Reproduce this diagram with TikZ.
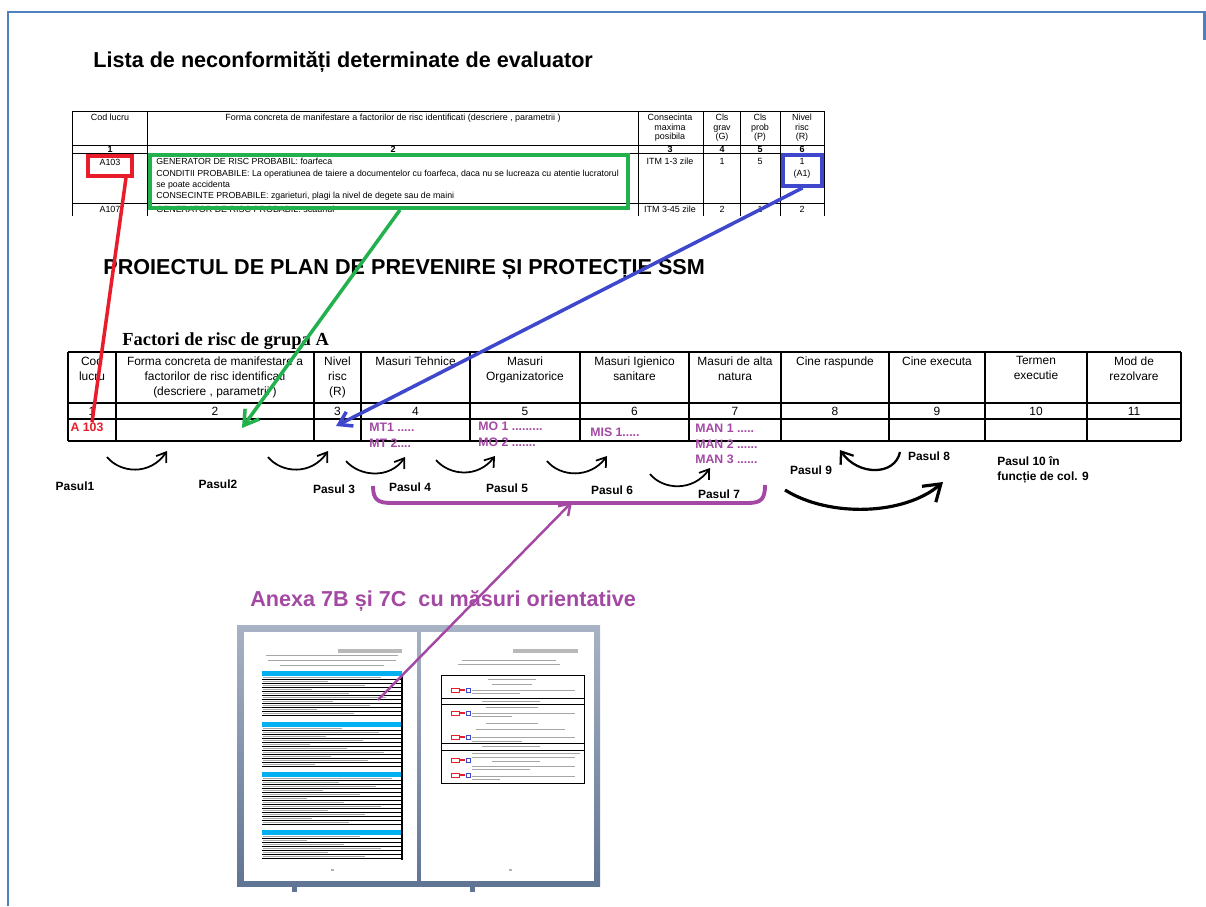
\documentclass[tikz,border=0pt]{standalone}
\usepackage{fontspec}
\setmainfont{Liberation Sans}
\newfontfamily\timesfont{Liberation Serif}
\usetikzlibrary{arrows.meta}
\definecolor{cadru}{RGB}{79,129,189}
\definecolor{rosu}{RGB}{232,28,42}
\definecolor{verde}{RGB}{34,177,76}
\definecolor{albastru}{RGB}{63,72,204}
\definecolor{mov}{RGB}{163,73,164}
\definecolor{ramaimg}{RGB}{96,116,148}
\definecolor{cian}{RGB}{0,176,240}

\begin{document}
\begin{tikzpicture}[x=0.02cm,y=-0.02cm,
  titlu/.style={font=\bfseries\fontsize{12.3}{14}\selectfont, inner sep=0pt, anchor=west},
  mic/.style={font=\fontsize{5.1}{5.4}\selectfont, inner sep=0pt, align=center, anchor=north},
  micb/.style={font=\bfseries\fontsize{5.1}{5.4}\selectfont, inner sep=0pt},
  antet/.style={font=\fontsize{6.8}{8.7}\selectfont, inner sep=0pt, align=center, anchor=north},
  masura/.style={font=\bfseries\fontsize{7}{9}\selectfont, text=mov, inner sep=0pt, align=left, anchor=north west},
  pasul/.style={font=\bfseries\fontsize{6.8}{8.5}\selectfont, inner sep=0pt},
  pas/.style={line width=1pt, -{Straight Barb[length=5pt,width=7pt]}},
  marcaj/.style={draw=#1, line width=2.2pt, inner sep=0pt},
  textgri/.style={gray!70, line width=0.5pt}]
\useasboundingbox (0,0) rectangle (1206,906);

% cadrul slide-ului
\draw [cadru, line width=1.7pt] (8,906) -- (8,12) -- (1204,12) -- (1204,40);

\node [titlu] (lista) at (93,62) {Lista de neconformități determinate de evaluator};

% tabelul evaluatorului (decupat)
\begin{scope}
\clip (60,105) rectangle (835,215);
\draw [line width=0.5pt] (72,111) -- (824,111);
\draw [line width=0.5pt] (72,145) -- (824,145);
\draw [line width=0.5pt] (72,153) -- (824,153);
\draw [line width=0.5pt] (72,203) -- (824,203);
\foreach \x in {72,147,638,703,740,780,824}
  \draw [line width=0.5pt] (\x,111) -- (\x,240);

\node [mic] (ev1) at (110,114) {Cod lucru};
\node [mic] (ev2) at (393,114) {Forma concreta de manifestare a factorilor de risc identificati (descriere , parametrii )};
\node [mic] (ev3) at (670,114) {Consecinta\\maxima\\posibila};
\node [mic] (ev4) at (722,114) {Cls\\grav\\(G)};
\node [mic] (ev5) at (760,114) {Cls\\prob\\(P)};
\node [mic] (ev6) at (802,114) {Nivel\\risc\\(R)};

\node [micb] at (110,149) {1};
\node [micb] at (393,149) {2};
\node [micb] at (670,149) {3};
\node [micb] at (722,149) {4};
\node [micb] at (760,149) {5};
\node [micb] at (802,149) {6};

\node [mic] (codev) at (110,159) {A103};
\node [mic, anchor=north west, align=left, font=\fontsize{5}{6.5}\selectfont] (descev) at (156,158)
  {GENERATOR DE RISC PROBABIL: foarfeca\\
   CONDITII PROBABILE: La operatiunea de taiere a documentelor cu foarfeca, daca nu se lucreaza cu atentie lucratorul\\
   se poate accidenta\\
   CONSECINTE PROBABILE: zgarieturi, plagi la nivel de degete sau de maini};
\node [mic] at (670,158) {ITM 1-3 zile};
\node [mic] at (722,158) {1};
\node [mic] at (760,158) {5};
\node [mic, font=\fontsize{5.1}{6.8}\selectfont] (riscev) at (802,158) {1\\(A1)};

\node [mic] at (110,206) {A107};
\node [mic, anchor=north west] at (156,206) {GENERATOR DE RISC PROBABIL: scaunul};
\node [mic] at (670,206) {ITM 3-45 zile};
\node [mic] at (722,206) {2};
\node [mic] at (760,206) {1};
\node [mic] at (802,206) {2};
\end{scope}

% marcajele colorate
\node [marcaj=rosu, minimum width=0.88cm, minimum height=0.4cm] (bA103) at (110,166) {};
\node [marcaj=verde, minimum width=9.56cm, minimum height=1.06cm] (bGen) at (389,181.5) {};
\node [marcaj=albastru, minimum width=0.78cm, minimum height=0.62cm] (bRisc) at (802.5,170.5) {};

\node [titlu] (proiect) at (103,269) {PROIECTUL DE PLAN DE PREVENIRE ȘI PROTECȚIE SSM};

\node [font=\timesfont\bfseries\fontsize{10.5}{12}\selectfont, anchor=west, inner sep=0pt] (factori) at (122,341) {Factori de risc de grupa A};

% tabelul planului
\foreach \y in {352,403,419,441}
  \draw [line width=0.6pt] (68,\y) -- (1181,\y);
\foreach \x in {68,116,314,361,470,580,689,781,889,985,1087,1181}
  \draw [line width=0.6pt] (\x,352) -- (\x,441);

\node [antet] (h1) at (92,356) {Cod\\lucru};
\node [antet] (h2) at (215,356) {Forma concreta de manifestare a\\factorilor de risc identificati\\(descriere , parametrii )};
\node [antet] (h3) at (337.5,356) {Nivel\\risc\\(R)};
\node [antet] (h4) at (415.5,356) {Masuri Tehnice};
\node [antet] (h5) at (525,356) {Masuri\\Organizatorice};
\node [antet] (h6) at (634.5,356) {Masuri Igienico\\sanitare};
\node [antet] (h7) at (735,356) {Masuri de alta\\natura};
\node [antet] (h8) at (835,356) {Cine raspunde};
\node [antet] (h9) at (937,356) {Cine executa};
\node [antet] (h10) at (1036,356) {Termen\\executie};
\node [antet] (h11) at (1134,356) {Mod de\\rezolvare};

\foreach \x [count=\i] in {92,215,337.5,415.5,525,634.5,735,835,937,1036,1134}
  \node [antet, anchor=center] (n\i) at (\x,411) {\i};

\node [font=\bfseries\fontsize{7}{9}\selectfont, text=rosu, inner sep=0pt] (codA) at (87,427) {A 103};
\node [masura] (mt) at (369,423) {MT1 .....\\MT 2....};
\node [masura] (mo) at (478,422) {MO 1 .........\\MO 2 .......};
\node [masura] (mis) at (590,428) {MIS 1.....};
\node [masura, font=\bfseries\fontsize{7}{8.8}\selectfont] (man) at (695,424) {MAN 1 .....\\MAN 2 ......\\MAN 3 ......};

\coordinate (tinta2) at (242,428);
\coordinate (tinta3) at (336,426);

% legaturile colorate
\draw [rosu, line width=2pt] ([xshift=0.32cm]bA103.south) -- ([xshift=0.1cm]codA.north);
\draw [verde, line width=2pt, -{Straight Barb[length=8pt,width=10pt]}] ([xshift=0.22cm]bGen.south) -- (tinta2);
\draw [albastru, line width=2pt, -{Straight Barb[length=7pt,width=9pt]}] (bRisc.south) -- (tinta3);

% pasii
\draw [pas] (107,457) .. controls (120,473) and (150,476) .. (167,451);
\draw [pas] (268,457) .. controls (281,473) and (311,476) .. (328,451);
\draw [pas] (346,461) .. controls (360,477) and (390,479) .. (405,457);
\draw [pas] (436,460) .. controls (450,476) and (478,478) .. (495,456);
\draw [pas] (547,461) .. controls (560,477) and (590,479) .. (607,456);
\draw [pas] (650,474) .. controls (663,490) and (693,492) .. (710,468);
\draw [line width=1.3pt, -{Straight Barb[length=6pt,width=9pt]}] (900,452) .. controls (895,476) and (858,476) .. (840,450);
\draw [line width=1.8pt, -{Straight Barb[length=9pt,width=12pt]}] (785,490) .. controls (830,518) and (905,515) .. (943,482);

\node [pasul] (p1) at (75,486) {Pasul1};
\node [pasul] (p2) at (218,484) {Pasul2};
\node [pasul] (p3) at (334,489) {Pasul 3};
\node [pasul] (p4) at (410,487) {Pasul 4};
\node [pasul] (p5) at (507,488) {Pasul 5};
\node [pasul] (p6) at (612,490) {Pasul 6};
\node [pasul] (p7) at (719,494) {Pasul 7};
\node [pasul] (p9) at (811,470) {Pasul 9};
\node [pasul] (p8) at (929,456) {Pasul 8};
\node [pasul, anchor=north west, align=left] (p10) at (997,456) {Pasul 10 în\\funcție de col. 9};

% acolada pasilor 4-7
\draw [mov, line width=2.2pt] (373,486) .. controls (373,500) and (378,503) .. (392,503) -- (748,503) .. controls (762,503) and (765,498) .. (765,485);
\coordinate (acolada) at (572,502);

\node [font=\bfseries\fontsize{12.3}{14}\selectfont, text=mov, inner sep=0pt, anchor=west] (anexa) at (250,601) {Anexa 7B și 7C~ cu măsuri orientative};

% miniatura anexelor
\shade [top color=ramaimg!55, bottom color=ramaimg] (237,625) rectangle (600,886);
\fill [ramaimg] (292,884) rectangle (297,892);
\fill [ramaimg] (470,884) rectangle (475,892);
\fill [white] (244,632) rectangle (417,881);
\fill [white] (421,632) rectangle (594,881);

% pagina stanga
\fill [gray!55] (338,649) rectangle (402,653);
\draw [textgri] (266,655) -- (398,655);
\draw [textgri] (268,660) -- (396,660);
\draw [textgri] (280,665) -- (384,665);
\foreach \s/\n in {671/10,722/10,772/12,830/6}{
  \fill [cian] (262,\s) rectangle (402,\s+4.5);
  \foreach \k in {1,...,\n}{
    \pgfmathsetmacro\yy{\s+4*\k+2}
    \pgfmathsetmacro\ll{40+mod(\k*37+\s,90)}
    \draw [textgri] (263,\yy) -- ++(\ll,0);
    \draw [black, line width=0.35pt] (262,\yy+1.8) -- (402,\yy+1.8);
  }
}
\draw [black, line width=0.6pt] (402,675) -- (402,860);
\fill [gray!60] (331,869) rectangle (334,871);

% pagina dreapta
\fill [gray!55] (513,649) rectangle (578,653);
\draw [textgri] (462,660) -- (556,660);
\draw [textgri] (458,664) -- (560,664);
\draw [black, line width=0.5pt] (441,675) rectangle (584,783);
\foreach \y in {698,704,743,750}
  \draw [black, line width=0.5pt] (441,\y) -- (584,\y);
\foreach \y/\a/\b in {679/488/536,684/492/532,690/472/575,693/472/520,701/482/540,707/486/538,
    713/472/575,716/472/512,723/486/538,729/476/565,737/472/575,741/472/522,746/482/540,
    753/472/580,757/472/575,761/492/540,766/472/575,769/472/530,776/472/575,779/472/500}
  \draw [textgri] (\a,\y) -- (\b,\y);
\foreach \y in {690,713,737,760,775}{
  \draw [rosu, line width=0.5pt] (451,\y-2) rectangle (459,\y+2);
  \draw [rosu, line width=0.6pt] (459,\y) -- (465,\y);
  \draw [albastru, line width=0.5pt] (466,\y-2) rectangle (470,\y+2);
}
\fill [gray!60] (509,869) rectangle (512,871);

\coordinate (ancora) at (378,700);
\draw [mov, line width=1.4pt, -{Straight Barb[length=6pt,width=8pt]}] (ancora) -- (acolada);

\end{tikzpicture}
\end{document}
